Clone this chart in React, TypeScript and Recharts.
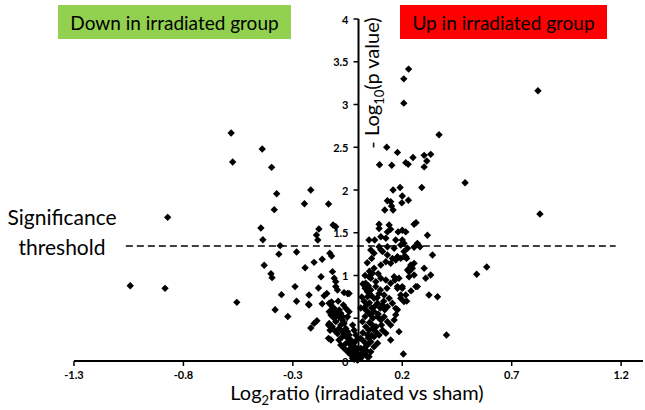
import { ScatterChart, Scatter, XAxis, YAxis, ReferenceLine, ReferenceDot } from "recharts";

// x = log2 ratio (irradiated vs sham), y = -log10(p value)
const downPoints: [number, number][] = [
  [-1.043, 0.88], [-0.884, 0.85], [-0.872, 1.68], [-0.582, 2.667], [-0.575, 2.327], [-0.556, 0.686],
  [-0.44, 2.48], [-0.397, 2.265], [-0.374, 1.957], [-0.385, 1.77], [-0.446, 1.556], [-0.437, 1.419],
  [-0.358, 1.349], [-0.364, 1.25], [-0.431, 1.12], [-0.4, 1.02], [-0.395, 0.975], [-0.352, 0.776],
  [-0.381, 0.6], [-0.323, 0.52],
  [-0.218, 2.0], [-0.247, 1.84], [-0.137, 1.836], [-0.181, 1.544], [-0.192, 1.474], [-0.186, 1.415],
  [-0.283, 1.275], [-0.166, 1.19], [-0.203, 1.154], [-0.244, 1.09], [-0.171, 0.986], [-0.29, 0.87],
  [-0.183, 0.854], [-0.226, 0.772], [-0.157, 0.764], [-0.145, 0.79], [-0.283, 0.698], [-0.228, 0.663],
  [-0.166, 0.67], [-0.19, 0.47], [-0.203, 0.44], [-0.218, 0.386], [-0.137, 0.42], [-0.137, 0.265],
  [-0.116, 1.59], [-0.104, 1.57], [-0.131, 1.26], [-0.123, 1.228], [-0.119, 1.045], [-0.111, 0.967],
  [-0.104, 0.928], [-0.104, 0.87], [-0.096, 0.83], [-0.066, 0.8], [-0.043, 0.79], [-0.226, 0.655],
  [-0.134, 0.675], [-0.123, 0.69], [-0.093, 0.7], [-0.119, 0.616], [-0.111, 0.577], [-0.088, 0.596],
  [-0.081, 0.558], [-0.073, 0.518], [-0.134, 0.44], [-0.12, 0.4], [-0.13, 0.36], [-0.05, 0.79],
  [-0.126, 0.655], [-0.134, 0.577], [-0.126, 0.538], [-0.111, 0.499], [-0.104, 0.46], [-0.126, 0.4],
  [-0.111, 0.36], [-0.096, 0.32], [-0.089, 0.38], [-0.081, 0.42], [-0.073, 0.343], [-0.066, 0.304],
  [-0.05, 0.265], [-0.043, 0.226], [-0.035, 0.187], [-0.027, 0.148], [-0.02, 0.109], [-0.012, 0.07],
  [-0.089, 0.246], [-0.081, 0.187], [-0.066, 0.148], [-0.05, 0.109], [-0.035, 0.07], [-0.027, 0.03],
  [-0.126, 0.246], [-0.111, 0.616], [-0.096, 0.577], [-0.089, 0.518], [-0.073, 0.48], [-0.066, 0.44],
  [-0.058, 0.38], [-0.05, 0.343], [-0.043, 0.304], [-0.035, 0.246], [-0.023, 0.207], [-0.017, 0.167],
  [-0.008, 0.128], [-0.005, 0.03], [-0.069, 0.655], [-0.058, 0.616], [-0.043, 0.577], [-0.05, 0.518],
  [-0.027, 0.42], [-0.02, 0.36], [-0.012, 0.304], [-0.008, 0.246], [-0.005, 0.01], [-0.01, 0.05],
  [-0.015, 0.09], [-0.02, 0.02], [-0.04, 0.14], [-0.06, 0.2], [-0.075, 0.28], [-0.1, 0.54],
];

const upPoints: [number, number][] = [
  [0.207, 3.3], [0.229, 3.414], [0.207, 3.016], [0.82, 3.16], [0.368, 2.647],
  [0.129, 2.5], [0.178, 2.44], [0.096, 2.296], [0.152, 2.29], [0.216, 2.32], [0.227, 2.3],
  [0.249, 2.38], [0.3, 2.405], [0.33, 2.417], [0.312, 2.34], [0.3, 2.27], [0.487, 2.085],
  [0.289, 2.03], [0.19, 2.03], [0.158, 2.0], [0.2, 1.93], [0.228, 1.88], [0.198, 1.85],
  [0.132, 1.875], [0.147, 1.864], [0.151, 1.813], [0.158, 1.766], [0.12, 1.766], [0.829, 1.72],
  [0.263, 1.618], [0.254, 1.6], [0.094, 1.6], [0.094, 1.55], [0.14, 1.59], [0.147, 1.54],
  [0.132, 1.51], [0.181, 1.51], [0.2, 1.53], [0.216, 1.51], [0.315, 1.47], [0.048, 1.415],
  [0.074, 1.415], [0.102, 1.454], [0.125, 1.435], [0.17, 1.415], [0.2, 1.415], [0.208, 1.376],
  [0.269, 1.376], [0.281, 1.337], [0.094, 1.337], [0.132, 1.337], [0.163, 1.318], [0.193, 1.357],
  [0.224, 1.318], [0.254, 1.33], [0.102, 1.3], [0.208, 1.28], [0.338, 1.24], [0.071, 1.084],
  [0.102, 1.123], [0.125, 1.161], [0.147, 1.142], [0.17, 1.18], [0.193, 1.2], [0.216, 1.22],
  [0.239, 1.123], [0.231, 1.045], [0.254, 1.006], [0.246, 1.084], [0.3, 1.084], [0.307, 0.967],
  [0.33, 1.006], [0.586, 1.1], [0.54, 1.014], [0.269, 0.87], [0.322, 0.772], [0.361, 0.752],
  [0.056, 0.967], [0.079, 0.928], [0.102, 0.967], [0.125, 0.947], [0.147, 0.909], [0.163, 0.986],
  [0.185, 0.967], [0.2, 0.87], [0.216, 0.772], [0.178, 0.85], [0.041, 0.81], [0.056, 0.772],
  [0.071, 0.733], [0.094, 0.79], [0.117, 0.772], [0.14, 0.733], [0.155, 0.675], [0.17, 0.616],
  [0.132, 0.635], [0.11, 0.655], [0.087, 0.675], [0.026, 0.616], [0.041, 0.577], [0.056, 0.538],
  [0.071, 0.577], [0.087, 0.518], [0.102, 0.48], [0.117, 0.518], [0.132, 0.46], [0.147, 0.42],
  [0.163, 0.48], [0.018, 0.46], [0.033, 0.4], [0.048, 0.36], [0.064, 0.42], [0.079, 0.343],
  [0.094, 0.304], [0.11, 0.36], [0.125, 0.324], [0.071, 0.284], [0.041, 0.304], [0.01, 0.265],
  [0.026, 0.226], [0.041, 0.187], [0.056, 0.226], [0.071, 0.167], [0.087, 0.207], [0.033, 0.128],
  [0.056, 0.109], [0.018, 0.07], [0.048, 0.05], [0.01, 0.148], [0.185, 0.343], [0.147, 0.246],
  [0.205, 0.082], [0.402, 0.304], [0.262, 0.87], [0.208, 0.694], [0.193, 0.733], [0.17, 0.54],
  [0.178, 0.6], [0.224, 1.064], [0.231, 0.986], [0.239, 1.103], [0.254, 1.142], [0.2, 0.85],
  [0.193, 0.772], [0.167, 0.947], [0.178, 0.87], [0.208, 1.22], [0.22, 1.2], [0.178, 1.22],
  [0.155, 1.2], [0.132, 1.24], [0.11, 1.28], [0.071, 1.26], [0.056, 1.298], [0.22, 0.7],
  [0.24, 0.82], [0.02, 0.9], [0.03, 0.85], [0.015, 0.75], [0.025, 0.7], [0.01, 0.62],
  [0.035, 0.65], [0.045, 0.88], [0.03, 1.0], [0.05, 1.05], [0.04, 1.15], [0.06, 1.2],
  [0.048, 0.986], [0.064, 1.025], [0.033, 0.909], [0.056, 0.83], [0.079, 0.87], [0.041, 0.752],
  [0.0, 0.02], [0.005, 0.04], [0.01, 0.03], [0.015, 0.06], [0.0, 0.08], [0.02, 0.1],
  [0.03, 0.08], [0.035, 0.12], [0.025, 0.15], [0.04, 0.05], [0.06, 0.3], [0.08, 0.4],
  [0.09, 0.55], [0.1, 0.62], [0.065, 0.5], [0.115, 0.7], [0.13, 0.85], [0.09, 1.02],
  [0.02, 0.33], [0.03, 0.52], [0.05, 0.45], [0.06, 0.62], [0.075, 0.64], [0.085, 0.74],
  [0.1, 0.83], [0.045, 0.27], [0.065, 0.38], [0.05, 0.68], [0.12, 0.6], [0.105, 0.42],
];

const xTicks = [-1.3, -0.8, -0.3, 0.2, 0.7, 1.2];
const yTicks = [0, 0.5, 1, 1.5, 2, 2.5, 3, 3.5, 4];
const threshold = 1.345;
const thresholdFrom = -1.063;
const thresholdTo = 1.175;

const data = [...downPoints, ...upPoints].map(([x, y]) => ({ x, y }));

const font = "Lato, 'Open Sans', sans-serif";

const Diamond = (props: any) => {
  const { cx, cy } = props;
  const r = 3.7;
  return <polygon points={`${cx},${cy - r} ${cx + r},${cy} ${cx},${cy + r} ${cx - r},${cy}`} fill="#000" />;
};

const YTick = (label: string) => (props: any) => {
  const { cx, cy } = props;
  return (
    <g>
      <line x1={cx - 5} x2={cx} y1={cy} y2={cy} stroke="#000" strokeWidth={1.5} />
      <text x={cx - 10} y={cy} textAnchor="end" dominantBaseline="central" fontSize={11} fontWeight={700} fontFamily={font} fill="#000">
        {label}
      </text>
    </g>
  );
};

export default function App() {
  return (
    <div style={{ position: "absolute", left: 0, top: 0, width: 645, height: 410, background: "#fff", fontFamily: font }}>
      <ScatterChart width={645} height={410} margin={{ top: 19, right: 2, bottom: 0, left: 74 }}>
        <XAxis
          type="number"
          dataKey="x"
          domain={[-1.3, 1.3]}
          ticks={xTicks}
          height={49}
          axisLine={{ stroke: "#000", strokeWidth: 2 }}
          tickLine={{ stroke: "#000", strokeWidth: 1.5 }}
          tickSize={5}
          tickMargin={5}
          tick={{ fontSize: 11, fontWeight: 700, fill: "#000", fontFamily: font }}
          tickFormatter={(v) => Number(v).toFixed(1)}
        />
        <YAxis type="number" dataKey="y" domain={[0, 4]} hide width={0} />
        <ReferenceLine x={0} stroke="#000" strokeWidth={2} />
        {yTicks.map((t) => (
          <ReferenceDot key={t} x={0} y={t} r={1} shape={YTick(String(t))} />
        ))}
        <ReferenceLine
          segment={[{ x: thresholdFrom, y: threshold }, { x: thresholdTo, y: threshold }]}
          stroke="#000"
          strokeWidth={1.5}
          strokeDasharray="7 4"
        />
        <Scatter data={data} shape={Diamond} isAnimationActive={false} />
      </ScatterChart>

      <div style={{ position: "absolute", left: 58, top: 5, width: 233, height: 34, background: "#92D050", display: "flex", alignItems: "center", justifyContent: "center", fontSize: 19, color: "#000" }}>
        Down in irradiated group
      </div>
      <div style={{ position: "absolute", left: 400, top: 5, width: 207, height: 34, background: "#FF0000", display: "flex", alignItems: "center", justifyContent: "center", fontSize: 19, color: "#000" }}>
        Up in irradiated group
      </div>
      <div style={{ position: "absolute", left: 2, top: 202, width: 120, textAlign: "center", fontSize: 21, lineHeight: "30px", color: "#000" }}>
        Significance
        <br />
        threshold
      </div>
      <div style={{ position: "absolute", left: 373, top: 83, transform: "translate(-50%, -50%) rotate(-90deg)", whiteSpace: "nowrap", fontSize: 20, color: "#000" }}>
        - Log<sub style={{ fontSize: "0.65em" }}>10</sub>(p value)
      </div>
      <div style={{ position: "absolute", left: 357, top: 394, transform: "translate(-50%, -50%)", whiteSpace: "nowrap", fontSize: 20, color: "#000" }}>
        Log<sub style={{ fontSize: "0.65em" }}>2</sub>ratio (irradiated vs sham)
      </div>
    </div>
  );
}
